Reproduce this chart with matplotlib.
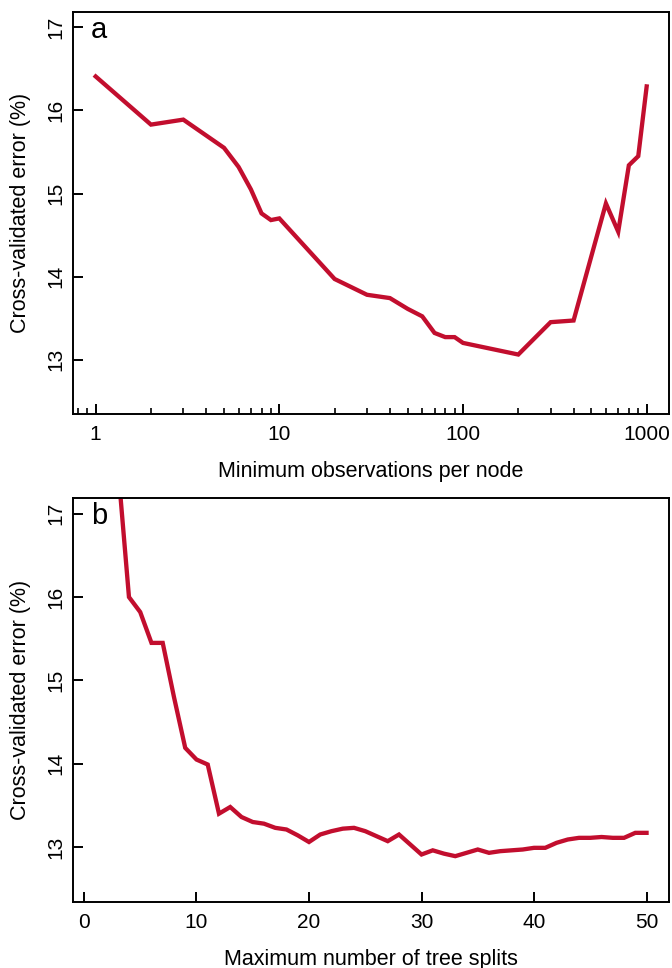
import matplotlib
matplotlib.use("Agg")
import matplotlib.pyplot as plt
from matplotlib.ticker import LogLocator, FixedLocator, NullFormatter

plt.rcParams['font.family'] = ['Liberation Sans', 'DejaVu Sans']

# panel a: minimum observations per node (log scale)
min_obs = [1, 2, 3, 5, 6, 7, 8, 9, 10, 20, 30, 40, 50, 60, 70, 80, 90, 100,
           200, 300, 400, 600, 700, 800, 900, 1000]
err_a = [16.41, 15.83, 15.89, 15.55, 15.32, 15.05, 14.76, 14.68, 14.70, 13.97,
         13.78, 13.74, 13.61, 13.52, 13.32, 13.27, 13.27, 13.20,
         13.06, 13.45, 13.47, 14.88, 14.54, 15.34, 15.45, 16.29]

# panel b: maximum number of tree splits
splits = list(range(1, 51))
err_b = [19.0, 18.3, 17.6, 16.00, 15.82, 15.45, 15.45, 14.80, 14.19, 14.05,
         13.99, 13.40, 13.48, 13.36, 13.30, 13.28, 13.23, 13.21, 13.14, 13.06,
         13.15, 13.19, 13.22, 13.23, 13.19, 13.13, 13.07, 13.15, 13.03, 12.91,
         12.96, 12.92, 12.89, 12.93, 12.97, 12.93, 12.95, 12.96, 12.97, 12.99,
         12.99, 13.05, 13.09, 13.11, 13.11, 13.12, 13.11, 13.11, 13.17, 13.17]

line_col = '#C20E2E'
ylab = 'Cross-validated error (%)'

fig = plt.figure(figsize=(6.72, 9.68), dpi=100)
ax1 = fig.add_axes([0.1082, 0.572, 0.8869, 0.4159])
ax2 = fig.add_axes([0.1082, 0.0682, 0.8869, 0.4174])

ax1.plot(min_obs, err_a, color=line_col, lw=3.1, solid_joinstyle='miter')
ax1.set_xscale('log')
ax1.set_xlim(10 ** -0.125, 10 ** 3.12)
ax1.xaxis.set_major_locator(FixedLocator([1, 10, 100, 1000]))
ax1.set_xticklabels(['1', '10', '100', '1000'])
ax1.xaxis.set_minor_locator(LogLocator(base=10, subs=range(2, 10)))
ax1.xaxis.set_minor_formatter(NullFormatter())
ax1.set_xlabel('Minimum observations per node', fontsize=15.5, labelpad=12)

ax2.plot(splits, err_b, color=line_col, lw=3.1, solid_joinstyle='miter')
ax2.set_xlim(-1.0, 51.97)
ax2.set_xticks([0, 10, 20, 30, 40, 50])
ax2.set_xlabel('Maximum number of tree splits', fontsize=15.5, labelpad=12)

for ax, letter in [(ax1, 'a'), (ax2, 'b')]:
    ax.set_ylim(12.34, 17.19)
    ax.set_yticks([13, 14, 15, 16, 17])
    ax.set_yticklabels(['13', '14', '15', '16', '17'], rotation=90, va='center')
    ax.set_ylabel(ylab, fontsize=15.5, labelpad=11)
    ax.tick_params(which='major', direction='in', length=7.5, width=1.4,
                   labelsize=15)
    ax.tick_params(axis='x', which='major', pad=8)
    ax.tick_params(axis='y', which='major', pad=5)
    ax.tick_params(which='minor', direction='in', length=4, width=1.2)
    for s in ax.spines.values():
        s.set_linewidth(1.4)
    ax.text(0.03, 0.99, letter, transform=ax.transAxes, fontsize=21,
            va='top', ha='left')

fig.savefig('out.png', dpi=100)
